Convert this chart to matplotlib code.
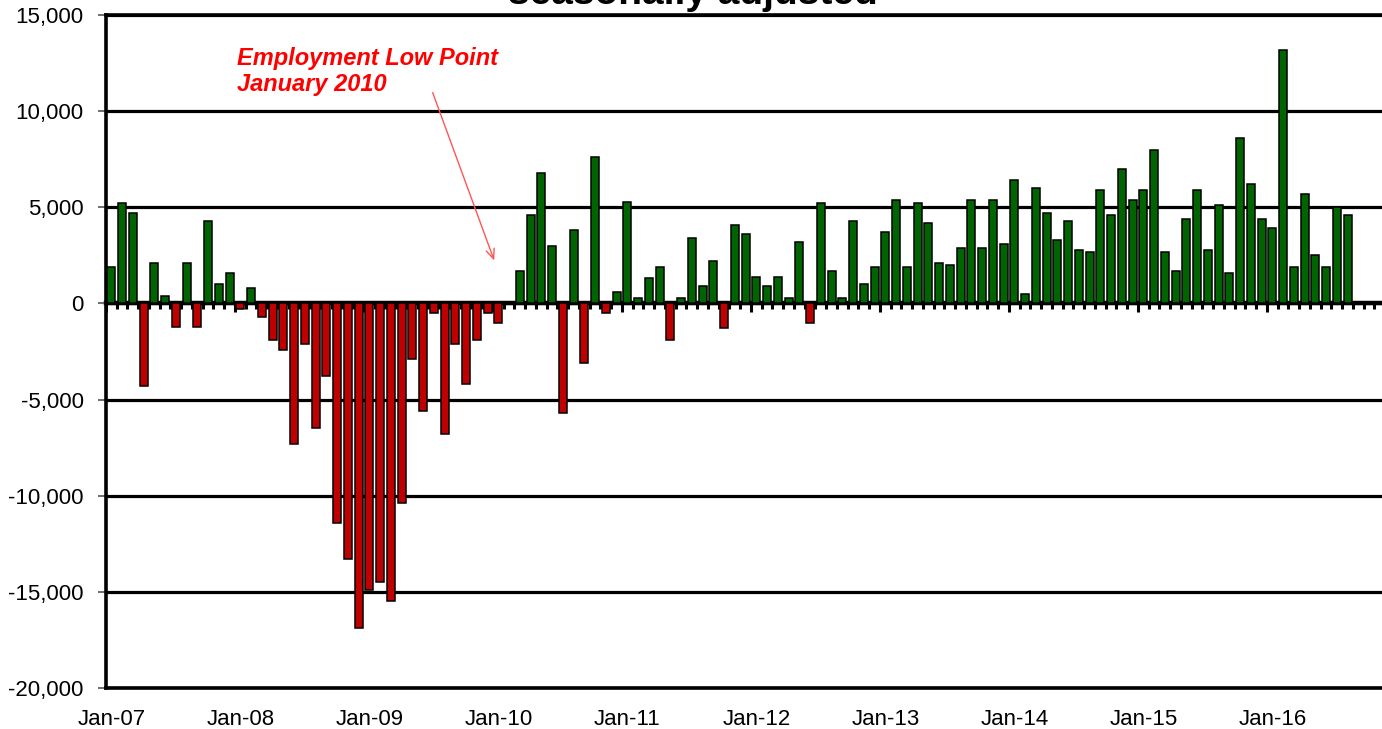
import numpy as np
import matplotlib
matplotlib.use("Agg")
import matplotlib.pyplot as plt
from matplotlib.ticker import FixedLocator, FuncFormatter

plt.rcParams['font.family'] = ['Liberation Sans', 'DejaVu Sans']

# ---- data (thousands of jobs, monthly change), Jan-07 .. Aug-16 ----
years = [f"{y:02d}" for y in range(7, 17)]
month_names = ["Jan", "Feb", "Mar", "Apr", "May", "Jun",
               "Jul", "Aug", "Sep", "Oct", "Nov", "Dec"]
categories = [f"{m}-{y}" for y in years for m in month_names]  # Jan-07 .. Dec-16

values = [
    # 2007
    1900, 5200, 4700, -4300, 2100, 400, -1200, 2100, -1200, 4300, 1000, 1600,
    # 2008
    -300, 800, -700, -1900, -2400, -7300, -2100, -6500, -3800, -11400, -13300, -16900,
    # 2009
    -14900, -14500, -15500, -10400, -2900, -5600, -500, -6800, -2100, -4200, -1900, -500,
    # 2010
    -1000, 0, 1700, 4600, 6800, 3000, -5700, 3800, -3100, 7600, -500, 600,
    # 2011
    5300, 300, 1300, 1900, -1900, 300, 3400, 900, 2200, -1300, 4100, 3600,
    # 2012
    1400, 900, 1400, 300, 3200, -1000, 5200, 1700, 300, 4300, 1000, 1900,
    # 2013
    3700, 5400, 1900, 5200, 4200, 2100, 2000, 2900, 5400, 2900, 5400, 3100,
    # 2014
    6400, 500, 6000, 4700, 3300, 4300, 2800, 2700, 5900, 4600, 7000, 5400,
    # 2015
    5900, 8000, 2700, 1700, 4400, 5900, 2800, 5100, 1600, 8600, 6200, 4400,
    # 2016
    3900, 13200, 1900, 5700, 2500, 1900, 5000, 4600,
]

y_ticks = [-20000, -15000, -10000, -5000, 0, 5000, 10000, 15000]
title_text = "seasonally adjusted"
note_text = "Employment Low Point\nJanuary 2010"

GREEN = "#006400"
RED = "#C00000"

W, H = 1382, 729
fig = plt.figure(figsize=(W / 100, H / 100), dpi=100)
left_px, right_px, top_px, bot_px = 106, 1396, 15, 688
ax = fig.add_axes([left_px / W, 1 - bot_px / H,
                   (right_px - left_px) / W, (bot_px - top_px) / H])

n_cat = len(categories)
x = np.arange(len(values))
vals = np.array(values, dtype=float)
colors = [GREEN if v >= 0 else RED for v in vals]

ax.bar(x, vals, width=0.76, color=colors, edgecolor="black",
       linewidth=1.1, zorder=3)

ax.set_xlim(-0.5, n_cat - 0.5)
ax.set_ylim(min(y_ticks), max(y_ticks))

# y axis
ax.set_yticks(y_ticks)
ax.yaxis.set_major_formatter(FuncFormatter(lambda v, p: f"{int(v):,}"))
ax.tick_params(axis="y", labelsize=16, length=6, width=1.2, pad=10,
               color="#555555", direction="out")
for yv in y_ticks:
    ax.axhline(yv, color="black", linewidth=2.3, zorder=1)

# x labels at bottom, centred on January categories
jan_idx = list(range(0, n_cat, 12))
ax.set_xticks(jan_idx)
ax.set_xticklabels([categories[i] for i in jan_idx])
ax.tick_params(axis="x", labelsize=16, length=0, pad=15)

for s in ["left", "bottom", "top"]:
    ax.spines[s].set_linewidth(2.6)
    ax.spines[s].set_color("black")
ax.spines["right"].set_visible(False)

# category axis crossing at zero with between-category tick marks
zero_frac = (0 - min(y_ticks)) / (max(y_ticks) - min(y_ticks))
sec = ax.secondary_xaxis(zero_frac)
sec.set_alignment("bottom")
sec.set_xticks([i - 0.5 for i in range(0, n_cat + 1, 12)])
sec.xaxis.set_minor_locator(FixedLocator([i - 0.5 for i in range(n_cat + 1)]))
sec.tick_params(axis="x", which="major", length=6.5, width=2.2,
                labelbottom=False, labeltop=False, direction="out")
sec.tick_params(axis="x", which="minor", length=4, width=2.2,
                direction="out")
sec.set_xticklabels([])
sec.spines["bottom"].set_linewidth(3.2)
sec.spines["bottom"].set_zorder(5)

# annotation
ax.text(11.7, 13330, note_text, color="#FF0000", fontsize=17,
        fontweight="bold", fontstyle="italic", ha="left", va="top",
        linespacing=1.15, zorder=6)
ax.annotate("", xy=(35.7, 2100), xytext=(29.8, 11100),
            arrowprops=dict(arrowstyle="->,head_length=0.7,head_width=0.3",
                            color="#FF5555", lw=1.0), zorder=6)

# title (partly cropped at the top edge, as in the source)
fig.text(693 / W, 1 - 4 / H, title_text, fontsize=28, fontweight="bold",
         ha="center", va="baseline")

fig.savefig("out.png", dpi=100)
